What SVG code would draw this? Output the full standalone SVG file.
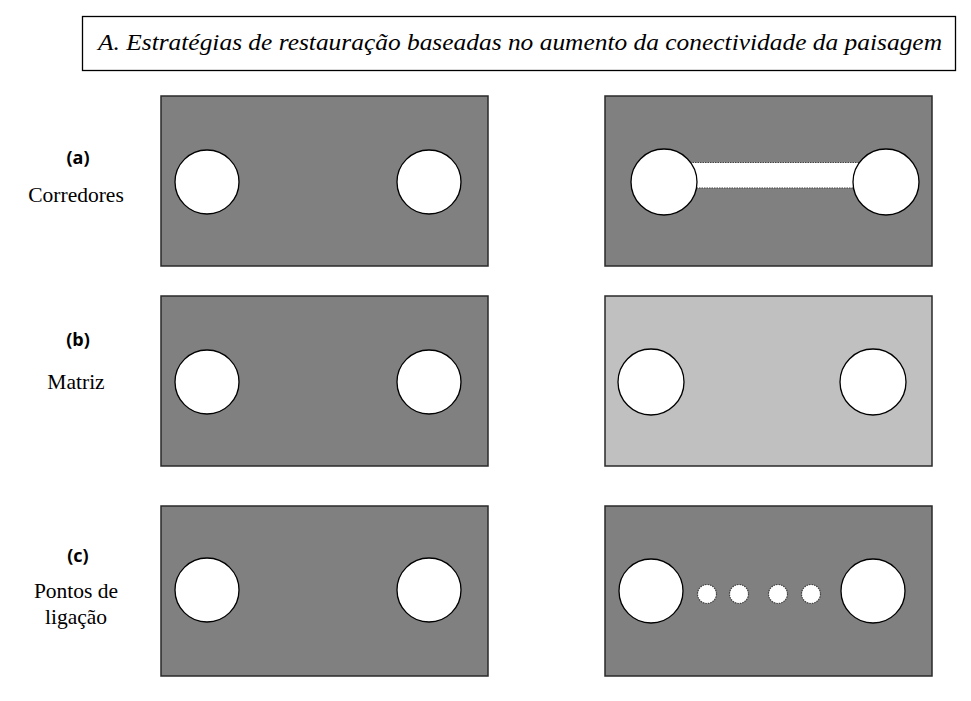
<svg xmlns="http://www.w3.org/2000/svg" width="971" height="701" viewBox="0 0 971 701">
<style>
.panel{fill:#808080;stroke:#2a2a2a;stroke-width:1.5}
.light{fill:#c0c0c0}
.patch{fill:#fff;stroke:#000;stroke-width:1.3}
.dot{fill:#fff;stroke:#444;stroke-width:1.2;stroke-dasharray:1.5 1}
.lbl{font-family:"Liberation Serif","Times New Roman",serif;font-size:21.5px;fill:#000;text-anchor:middle}
.tag{font-family:"Open Sans","Liberation Sans",sans-serif;font-weight:bold;font-size:18px;fill:#000;text-anchor:middle}
</style>
<rect width="971" height="701" fill="#fff"/>
<g id="title">
<rect x="82.5" y="16.5" width="873" height="54" fill="#fff" stroke="#000" stroke-width="1.3"/>
<text x="98" y="50" font-family="'Liberation Serif','Times New Roman',serif" font-style="italic" font-size="24" textLength="844" lengthAdjust="spacingAndGlyphs">A. Estratégias de restauração baseadas no aumento da conectividade da paisagem</text>
</g>
<g id="labels">
<text class="tag" x="78" y="164">(a)</text>
<text class="lbl" x="76" y="202">Corredores</text>
<text class="tag" x="78" y="346">(b)</text>
<text class="lbl" x="76" y="389">Matriz</text>
<text class="tag" x="78" y="562">(c)</text>
<text class="lbl" x="76" y="598">Pontos de</text>
<text class="lbl" x="76" y="624">ligação</text>
</g>
<g id="a-before">
<rect class="panel" x="161" y="96" width="327" height="170"/>
<circle class="patch" cx="207" cy="182" r="32"/>
<circle class="patch" cx="429" cy="182" r="32"/>
</g>
<g id="a-after">
<rect class="panel" x="605" y="96" width="327" height="170"/>
<rect x="690" y="162.5" width="170" height="25.5" fill="#fff" stroke="#444" stroke-width="1.2" stroke-dasharray="1.5 1"/>
<circle class="patch" cx="664" cy="182" r="33"/>
<circle class="patch" cx="886" cy="182" r="33"/>
</g>
<g id="b-before">
<rect class="panel" x="161" y="296" width="327" height="170"/>
<circle class="patch" cx="207" cy="382" r="32"/>
<circle class="patch" cx="429" cy="382" r="32"/>
</g>
<g id="b-after">
<rect class="panel light" x="605" y="296" width="327" height="170"/>
<circle class="patch" cx="651" cy="382" r="33"/>
<circle class="patch" cx="873" cy="382" r="33"/>
</g>
<g id="c-before">
<rect class="panel" x="161" y="506" width="327" height="170"/>
<circle class="patch" cx="207" cy="590" r="32"/>
<circle class="patch" cx="429" cy="590" r="32"/>
</g>
<g id="c-after">
<rect class="panel" x="605" y="506" width="327" height="170"/>
<circle class="patch" cx="651" cy="591" r="32"/>
<circle class="patch" cx="873" cy="591" r="32"/>
<circle class="dot" cx="707" cy="594" r="9.5"/>
<circle class="dot" cx="739" cy="594" r="9.5"/>
<circle class="dot" cx="778" cy="594" r="9.5"/>
<circle class="dot" cx="811" cy="594" r="9.5"/>
</g>
<g id="connectors"></g>
</svg>
